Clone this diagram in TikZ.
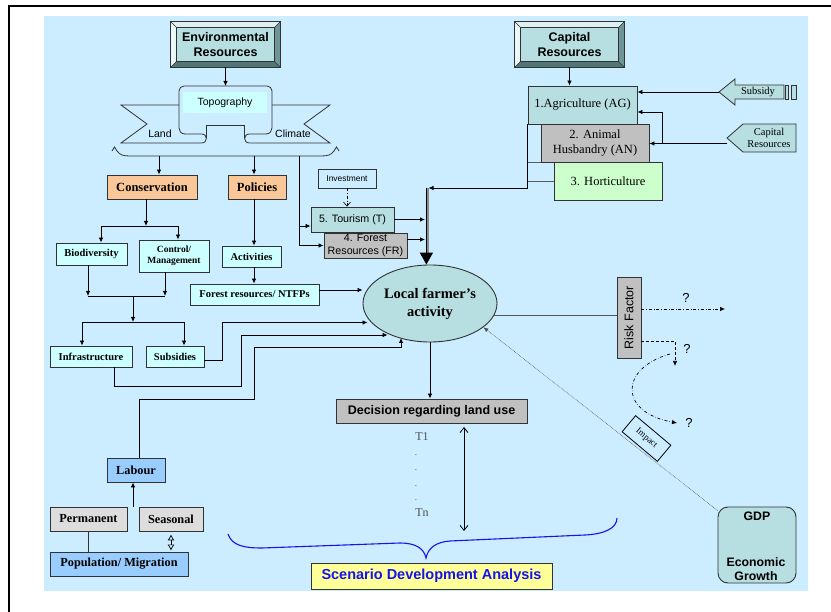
\documentclass[tikz,border=0pt]{standalone}
\usepackage{fontspec}
\setmainfont{Liberation Serif}
\setsansfont{Liberation Sans}
\usetikzlibrary{arrows.meta,calc,shapes.geometric}
\definecolor{bgblue}{RGB}{204,236,255}
\definecolor{teal1}{RGB}{183,222,224}
\definecolor{orange1}{RGB}{250,200,152}
\definecolor{cyan1}{RGB}{204,255,255}
\definecolor{gray1}{RGB}{192,192,192}
\definecolor{gray2}{RGB}{221,221,221}
\definecolor{blue1}{RGB}{153,204,255}
\definecolor{green1}{RGB}{204,255,204}
\definecolor{yellow1}{RGB}{255,255,153}
\definecolor{edge}{RGB}{50,50,50}
\definecolor{bevlight}{RGB}{222,240,241}
\definecolor{bevlighter}{RGB}{236,248,248}
\definecolor{bevdark}{RGB}{110,150,152}
\definecolor{bevdarker}{RGB}{80,118,120}
\definecolor{txtgray}{RGB}{80,80,80}
\definecolor{scenblue}{RGB}{20,20,235}
\newcommand\myfs[2]{\fontsize{#1}{#2}\selectfont}
\newcommand\bevelbox[1]{%
 \fill[bevlight] (#1.north west) -- (#1.north east) -- ($(#1.north east)+(-6,6)$) -- ($(#1.north west)+(6,6)$) -- cycle;
 \fill[bevlighter] (#1.north west) -- ($(#1.north west)+(6,6)$) -- ($(#1.south west)+(6,-6)$) -- (#1.south west) -- cycle;
 \fill[bevdark] (#1.north east) -- ($(#1.north east)+(-6,6)$) -- ($(#1.south east)+(-6,-6)$) -- (#1.south east) -- cycle;
 \fill[bevdarker] (#1.south west) -- ($(#1.south west)+(6,-6)$) -- ($(#1.south east)+(-6,-6)$) -- (#1.south east) -- cycle;
 \draw[edge,line width=0.9pt] (#1.north west) rectangle (#1.south east);
 \draw[edge,line width=0.6pt] ($(#1.north west)+(6,6)$) rectangle ($(#1.south east)+(-6,-6)$);
 \draw[edge,line width=0.5pt] (#1.north west) -- ++(6,6) (#1.north east) -- ++(-6,6) (#1.south west) -- ++(6,-6) (#1.south east) -- ++(-6,-6);}
\begin{document}
\begin{tikzpicture}[x=1pt,y=-1pt,
  bx/.style={draw=edge,line width=0.9pt,inner sep=1pt,align=center},
  arr/.style={-{Latex[length=5pt,width=4.5pt]},line width=0.8pt},
  ln/.style={line width=0.8pt},
  serb/.style={font=\bfseries\myfs{10.5}{12}},
  sans/.style={font=\sffamily\myfs{10.7}{12.5}},
  qm/.style={font=\sffamily\myfs{13}{14}}]
\useasboundingbox (0,0) rectangle (831,612);
\fill[white] (0,0) rectangle (831,612);
\fill[bgblue] (44,16) rectangle (808,591);
\draw[line width=2pt] (9,612) -- (9,6) -- (831,6);

% ---------- bevel boxes
\node[bx,fill=teal1,minimum width=109pt,minimum height=45pt] (envres) at (225.5,44.5) {};
\bevelbox{envres}
\node[font=\sffamily\bfseries\myfs{12.5}{14.7},align=center] at (envres) {Environmental\\Resources};
\node[bx,fill=teal1,minimum width=109pt,minimum height=45pt] (captres) at (569.5,44.5) {};
\bevelbox{captres}
\node[font=\sffamily\bfseries\myfs{12.5}{14.7},align=center] at (captres) {Capital\\Resources};

% ---------- topography ribbon
\draw[ln,edge,fill=bgblue,rounded corners=5pt] (179,128) -- (179,86) -- (272,86) -- (272,128);
\draw[ln,edge] (179,105) -- (121,105) -- (147,124) -- (121,143) -- (201.5,143);
\draw[ln,edge] (201.5,143) .. controls (208,143) and (208,134) .. (201.5,134) -- (185,134) .. controls (181,134) and (179,131) .. (179,128);
\draw[ln,edge] (206.4,125) -- (206.4,138.5);
\draw[ln,edge] (272,105) -- (330,105) -- (304,124) -- (330,143) -- (249.5,143);
\draw[ln,edge] (249.5,143) .. controls (243,143) and (243,134) .. (249.5,134) -- (266,134) .. controls (270,134) and (272,131) .. (272,128);
\draw[ln,edge] (244.6,125) -- (244.6,138.5);
\draw[ln,edge] (206.4,125) -- (244.6,125);
\node[fill=cyan1,minimum width=84pt,minimum height=21pt,inner sep=0,font=\sffamily\myfs{10.5}{12}] (topo) at (225,102.5) {Topography};
\node[font=\sffamily\myfs{10.5}{12}] (land) at (160,134) {Land};
\node[font=\sffamily\myfs{10.5}{12}] (climate) at (293,134) {Climate};
\coordinate (topotop) at (225.5,86);
\draw[arr] (envres.south) -- (topotop);

% brace under ribbon
\draw[ln,edge] (112,151) -- (114.5,147) -- (117,151) .. controls (120,155) and (123,156) .. (130,156) -- (321,156) .. controls (328,156) and (331,155) .. (334,151) -- (336.5,147) -- (339,151);

% ---------- left column boxes
\node[bx,fill=orange1,minimum width=90pt,minimum height=24pt,font=\bfseries\myfs{12.5}{14}] (cons) at (152,187) {Conservation};
\node[bx,fill=orange1,minimum width=58pt,minimum height=24pt,font=\bfseries\myfs{12.5}{14}] (pol) at (257,187) {Policies};
\node[bx,fill=cyan1,minimum width=71pt,minimum height=22pt,serb] (bio) at (91.5,254) {Biodiversity};
\node[bx,fill=cyan1,minimum width=70pt,minimum height=32pt,font=\bfseries\myfs{9.5}{11.5}] (ctrl) at (174,256) {Control/\\Management};
\node[bx,fill=cyan1,minimum width=59pt,minimum height=21pt,serb] (act) at (251.5,256.5) {Activities};
\node[bx,fill=cyan1,minimum width=129pt,minimum height=21pt,serb] (ntfp) at (254.5,294.5) {Forest resources/ NTFPs};
\node[bx,fill=cyan1,minimum width=82pt,minimum height=21pt,serb] (infra) at (91,356.5) {Infrastructure};
\node[bx,fill=cyan1,minimum width=58pt,minimum height=21pt,serb] (subs) at (175,356.5) {Subsidies};

% tourism / forest
\node[bx,line width=0.7pt,minimum width=58pt,minimum height=19pt,font=\sffamily\myfs{8.4}{10}] (invest) at (347,178.5) {Investment};
\node[bx,fill=teal1,minimum width=83pt,minimum height=25pt,sans] (tour) at (352.5,219.5) {5. Tourism (T)};
\node[bx,fill=gray1,minimum width=83pt,minimum height=25pt,inner sep=0,font=\sffamily\myfs{10.7}{12.5}] (forest) at (365.5,245.5) {4. Forest\\Resources (FR)};

% central ellipse
\node[ellipse,draw=edge,fill=teal1,line width=0.9pt,minimum width=134pt,minimum height=77pt,inner sep=0,align=center,font=\bfseries\myfs{14.5}{18}] (farm) at (430,303.5) {Local farmer’s\\activity};

% capital side
\node[bx,fill=teal1,minimum width=109pt,minimum height=38pt,font=\myfs{12.5}{15}] (ag) at (582.5,105) {1.Agriculture (AG)};
\node[bx,fill=gray1,minimum width=108pt,minimum height=38pt,font=\myfs{12.5}{15}] (an) at (595,143) {2. Animal\\Husbandry (AN)};
\node[bx,fill=green1,minimum width=108pt,minimum height=38pt,font=\myfs{12.5}{15}] (hort) at (608,181) {3. Horticulture};

\draw[edge,line width=0.8pt,fill=teal1] (719,92) -- (735,79) -- (735,85) -- (784,85) -- (784,99) -- (735,99) -- (735,105) -- cycle;
\draw[edge,line width=0.8pt,fill=teal1] (785.5,85) rectangle (788.5,99);
\draw[edge,line width=0.8pt,fill=teal1] (791,85) rectangle (796,99);
\node[font=\myfs{10.5}{12}] (subsidy) at (758,91.5) {Subsidy};
\coordinate (subtip) at (719,92);
\draw[edge,line width=0.8pt,fill=teal1] (727,138) -- (743,124) -- (796,124) -- (796,152) -- (743,152) -- cycle;
\node[font=\myfs{10.5}{12.5},align=center] (capcall) at (769,138) {Capital\\Resources};
\coordinate (captip) at (727,143.5);
\coordinate (cj) at (662,143.5);

\draw[arr] (captres.south) -- (captres.south |- ag.north);
\draw[arr] (subtip) -- (subtip -| ag.east);
\draw[arr] (captip) -- (captip -| an.east);
\draw[arr] (cj) |- ($(ag.east)+(0,7)$);

% right stack to big arrow
\coordinate (bigtop) at (427,188);
\draw[arr] (ag.south west) |- ($(bigtop)+(1.5,0)$);
\draw[edge!80,line width=1pt] (528,163) -- (an.west |- 0,163);
\draw[edge!80,line width=1pt] (528,181.5) -- (hort.west |- 0,181.5);
\draw[line width=3.6pt,black!45] ($(bigtop)+(0.3,0)$) -- ($(bigtop |- farm.north)+(0.3,-10)$);
\draw[line width=1.6pt,-{Triangle[length=12pt,width=13pt]}] ($(bigtop)+(-0.6,0)$) -- ($(bigtop |- farm.north)+(-0.6,0)$);
\draw[arr] (tour.east) -- ($(tour.east -| bigtop)+(-2,0)$);
\draw[arr] ($(forest.east)+(0,-6)$) -- ($(forest.east -| bigtop)+(-2,-6)$);
\draw[dash dot,line width=0.6pt,-{Straight Barb[length=4pt,width=7pt]}] (invest.south) -- (invest.south |- tour.north);

% brace connectors
\coordinate (b1) at (159,156);
\coordinate (b2) at (254,156);
\coordinate (b3) at (299,156);
\coordinate (j3) at (299,226);
\draw[arr] (b1) -- (b1 |- cons.north);
\draw[arr] (b2) -- (b2 |- pol.north);
\draw[arr] (b3) |- (forest.west);
\draw[arr] (j3) -- (j3 -| tour.west);

% conservation tree
\coordinate (cj1) at (146,226);
\coordinate (cjL) at (101,226);
\coordinate (cjR) at (178,226);
\draw[arr] (cons.south -| cj1) -- (cj1);
\draw[ln] (cjL) -- (cjR);
\draw[arr] (cjL) -- (cjL |- bio.north);
\draw[arr] (cjR) -- (cjR |- ctrl.north);
\coordinate (m1) at (88,296);
\coordinate (m2) at (165,296);
\coordinate (m3) at (133,296);
\coordinate (m4) at (133,322);
\draw[arr] (bio.south -| m1) -- (m1);
\draw[arr] (ctrl.south -| m2) -- (m2);
\draw[ln] (m1) -- (m2);
\draw[arr] (m3) -- (m4);
\coordinate (i1) at (82,322);
\coordinate (i2) at (184,322);
\draw[ln] (i1) -- (i2);
\draw[arr] (i1) -- (i1 |- infra.north);
\draw[arr] (i2) -- (i2 |- subs.north);

% policies
\coordinate (px) at (254,0);
\draw[arr] (pol.south -| px) -- (act.north -| px);
\draw[arr] (act.south -| px) -- (ntfp.north -| px);

% into farm
\draw[arr] ($(ntfp.east)+(0,-4.5)$) -- ($(ntfp.east -| farm.west)+(0,-4.5)$);
\coordinate (fs) at ($(farm.west)+(5,19)$);
\draw[arr] ($(subs.east)+(0,3.5)$) -- (222,360) |- (fs);
\coordinate (fi) at ($(farm.west)+(25,31.5)$);
\draw[arr] ($(infra.south)+(23,0)$) -- (114,386) -- (241,386) |- (fi);

% labour group
\node[bx,fill=blue1,minimum width=58pt,minimum height=24pt,font=\bfseries\myfs{12.3}{14}] (labour) at (136,470) {Labour};
\node[bx,fill=gray2,minimum width=77pt,minimum height=24pt,font=\bfseries\myfs{12.3}{14}] (perm) at (88.5,519) {Permanent};
\node[bx,fill=gray2,minimum width=64pt,minimum height=24pt,font=\bfseries\myfs{12.3}{14}] (seas) at (171,519) {Seasonal};
\node[bx,fill=blue1,minimum width=138pt,minimum height=24pt,font=\bfseries\myfs{12.3}{14}] (pop) at (119,564) {Population/ Migration};
\coordinate (fl) at (401,338);
\draw[arr] ($(labour.north)+(3,0)$) -- (139,399) -- (254,399) -- (254,347) -- (401,347) -- (fl);
\coordinate (lj) at (133,507);
\draw[arr] (lj) -- (lj |- labour.south);
\draw[edge,line width=0.9pt] (perm.south) -- (perm.south |- pop.north);
\draw[line width=0.7pt,{Latex[open,length=6pt,width=7pt]}-{Latex[open,length=6pt,width=7pt]}] ($(seas.south)+(0,3)$) -- ($(seas.south |- pop.north)+(0,-1)$);

% decision
\node[bx,fill=gray1,minimum width=191pt,minimum height=24pt,font=\sffamily\bfseries\myfs{12.5}{14}] (dec) at (431.5,411) {Decision regarding land use};
\draw[arr] (farm.south) -- (farm.south |- dec.north);
\node[txtgray,font=\myfs{12}{13}] (t1) at (422,437) {T1};
\foreach \yy in {455,470,486,500} \node[txtgray,font=\myfs{9}{10},inner sep=0] at (416,\yy) {.};
\node[txtgray,font=\myfs{12}{13}] (tn) at (422,513) {Tn};
\coordinate (da1) at (464,427);
\coordinate (da2) at (464,531);
\draw[line width=0.8pt,{Straight Barb[length=5pt,width=8pt]}-{Straight Barb[length=5pt,width=8pt]}] (da1) -- (da2);

% blue brace
\draw[scenblue,line width=1.1pt] (228,534) .. controls (232,546) and (245,548) .. (262,548) -- (400,543) .. controls (415,543) and (424,548) .. (426,558) .. controls (428,548) and (436,542) .. (450,541) -- (585,535) .. controls (605,534) and (617,528) .. (617,518);
\node[bx,fill=yellow1,minimum width=241pt,minimum height=26pt,text=scenblue,font=\sffamily\bfseries\myfs{14.5}{16}] (scen) at (431.5,576) {Scenario Development Analysis};

% risk factor
\node[bx,fill=gray1,minimum width=24pt,minimum height=81pt] (risk) at (629,317.5) {};
\node[rotate=90,font=\sffamily\myfs{12.5}{14}] at (risk) {Risk Factor};
\draw[edge!85,line width=1pt] (farm.-11) -- (farm.-11 -| risk.west);
\coordinate (q1) at (725,309);
\draw[dash dot,line width=0.7pt,-{Latex[length=5pt,width=4.5pt]}] ($(risk.east)+(0,-8.5)$) -- (q1);
\node[qm] at (686,298) {?};
\coordinate (q2) at (675,366);
\draw[densely dashed,line width=0.7pt,-{Latex[length=5pt,width=4.5pt]}] ($(risk.east)+(0,23.5)$) -- (675,341) -- (q2);
\node[qm] at (687,349) {?};
\coordinate (q3) at (677,423);
\draw[dash dot,line width=0.7pt,-{Latex[length=5pt,width=4.5pt]}] (670,354) .. controls (620,368) and (618,412) .. (q3);
\node[qm] at (689,423) {?};

% GDP and impact
\node[draw=edge,line width=0.9pt,fill=teal1,rounded corners=10pt,minimum width=78pt,minimum height=76pt] (gdp) at (757,545) {};
\node[font=\sffamily\bfseries\myfs{12.3}{14}] at (757,516.5) {GDP};
\node[font=\sffamily\bfseries\myfs{12.3}{14},align=center] at (756,569) {Economic\\Growth};
\draw[densely dotted,line width=0.6pt,black!70,-{Latex[length=5pt,width=4pt]}] ($(gdp.north west)+(0,4)$) -- (farm.-24);
\node[draw=black,line width=0.8pt,fill=bgblue,rotate=-40,minimum width=46pt,minimum height=21pt,inner sep=0,font=\myfs{9}{10}] (impact) at (646.5,438.5) {Impact};
\end{tikzpicture}
\end{document}
